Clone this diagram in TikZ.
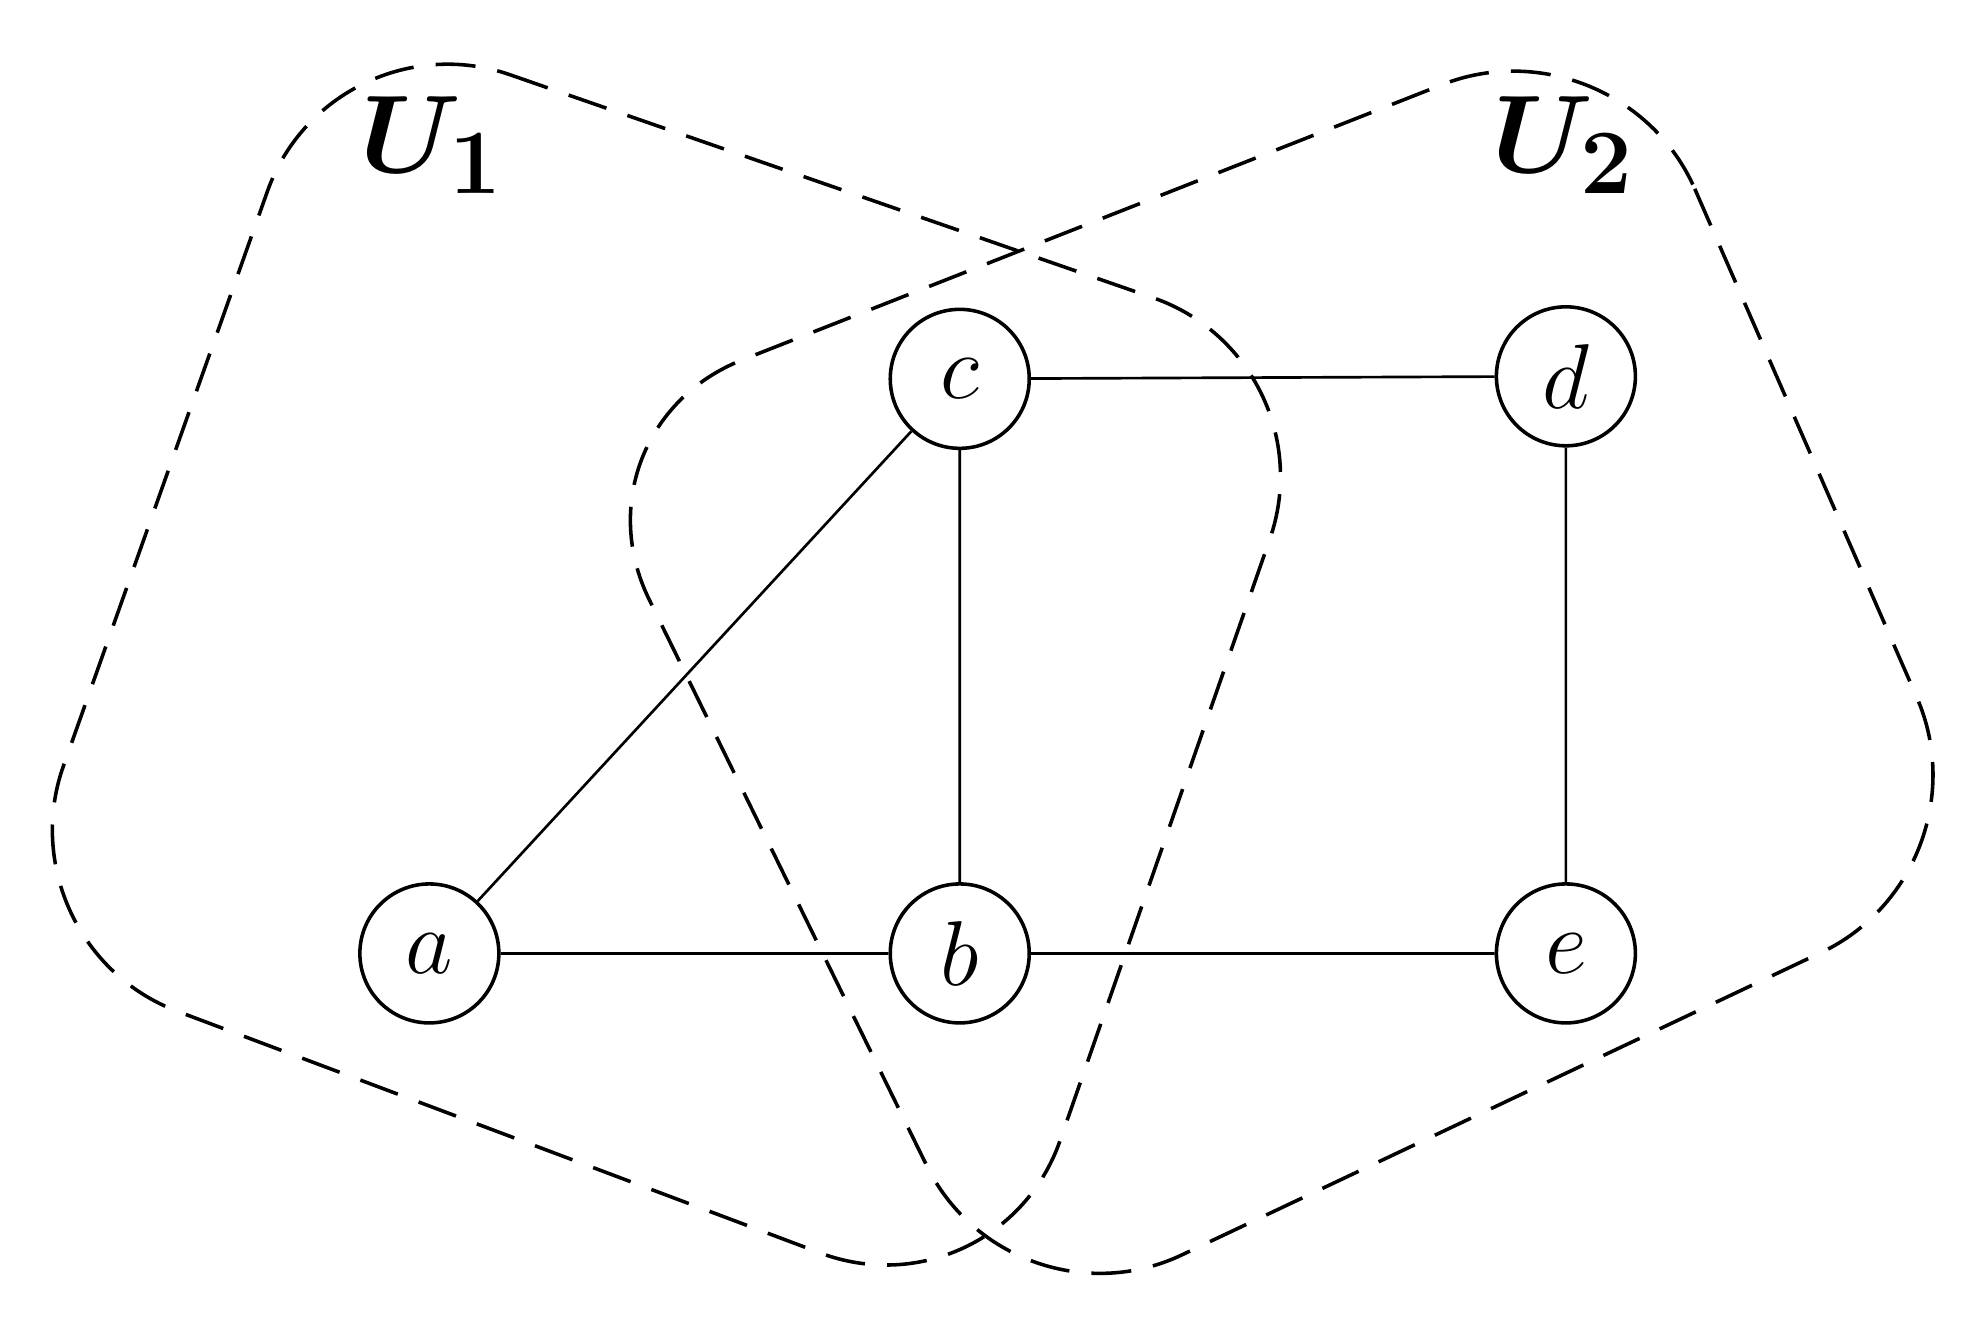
\documentclass[tikz,border=0pt]{standalone}
\usepackage{bm}
\begin{document}
\begin{tikzpicture}[x=0.01cm,y=-0.01cm,
  vtx/.style={circle,draw,thick,minimum size=1.1cm,inner sep=0pt,font=\huge},
  edge/.style={draw,semithick},
  region/.style={draw,dashed,thick,rounded corners=1.5cm,dash pattern=on 9pt off 5pt},
  lbl/.style={font=\Huge}]
\useasboundingbox (0,0) rectangle (1560,1046);
\node[vtx] (c) at (760,300) {$c$};
\node[vtx] (d) at (1240,298) {$d$};
\node[vtx] (a) at (340,755) {$a$};
\node[vtx] (b) at (760,755) {$b$};
\node[vtx] (e) at (1240,755) {$e$};
\draw[edge] (c)--(d) (c)--(b) (c)--(a) (a)--(b) (b)--(e) (d)--(e);
\path[region] (262,10) -- (1055,285) -- (790,1045) -- (0,748) -- cycle;
\path[region] (1282,12) -- (1578,690) -- (800,1058) -- (448,340) -- cycle;
\node[lbl] (u1) at (342,115) {$\bm{U_1}$};
\node[lbl] (u2) at (1238,115) {$\bm{U_2}$};
\end{tikzpicture}
\end{document}
